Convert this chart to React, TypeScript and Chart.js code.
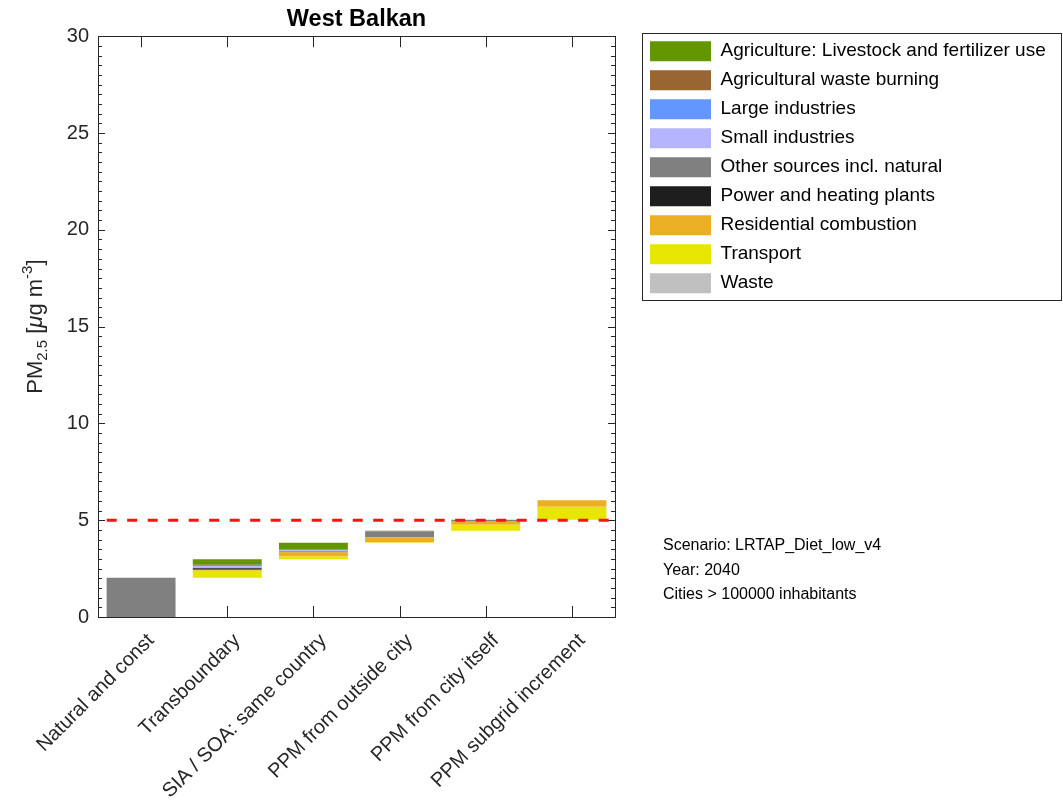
import React, { useEffect, useRef } from 'react';
import { Chart, registerables } from 'chart.js';

Chart.register(...registerables);

// ---------- data ----------
const chartTitle = 'West Balkan';
const categories = [
  'Natural and const',
  'Transboundary',
  'SIA / SOA: same country',
  'PPM from outside city',
  'PPM from city itself',
  'PPM subgrid increment',
];

// source labels in stacking order (bottom -> top)
const sourceLabels = [
  'Waste',
  'Transport',
  'Residential combustion',
  'Power and heating plants',
  'Other sources incl. natural',
  'Small industries',
  'Large industries',
  'Agricultural waste burning',
  'Agriculture: Livestock and fertilizer use',
];

const waste = [0, 0, 0, 0, 0, 0];
const transport = [0, 0.36, 0.15, 0.03, 0.3, 0.67];
const residential = [0, 0.05, 0.22, 0.26, 0.2, 0.34];
const power = [0, 0.08, 0.01, 0, 0, 0];
const otherSources = [2.03, 0.03, 0.04, 0.31, 0.05, 0];
const smallIndustries = [0, 0.06, 0.03, 0, 0, 0];
const largeIndustries = [0, 0.08, 0.04, 0, 0.01, 0];
const agriWasteBurning = [0, 0.01, 0, 0, 0, 0];
const agriculture = [0, 0.28, 0.36, 0.03, 0, 0];

const yMin = 0;
const yMax = 30;
const yMajorStep = 5;
const yMinorStep = 0.5;
const limitValue = 5;

const infoLines = ['Scenario: LRTAP_Diet_low_v4', 'Year: 2040', 'Cities > 100000 inhabitants'];

// ---------- styles ----------
const FONT = '"Liberation Sans", Arial, Helvetica, sans-serif';
const AXIS_COLOR = '#262626';
const sourceColors = [
  '#c0c0c0', // waste
  '#e6e600', // transport
  '#ebaf23', // residential
  '#1e1e1e', // power
  '#808080', // other
  '#b4b4ff', // small industries
  '#6496ff', // large industries
  '#996633', // agri waste burning
  '#649600', // agriculture
];

const series = [
  waste,
  transport,
  residential,
  power,
  otherSources,
  smallIndustries,
  largeIndustries,
  agriWasteBurning,
  agriculture,
];

// waterfall: each category starts where the previous one ended
const totals = categories.map((_, i) => series.reduce((s, arr) => s + arr[i], 0));
const bases = totals.map((_, i) => totals.slice(0, i).reduce((a, b) => a + b, 0));

const barDatasets = series.map((arr, k) => ({
  type: 'bar' as const,
  label: sourceLabels[k],
  xAxisID: 'x',
  yAxisID: 'y',
  grouped: false,
  data: arr.map((v, i) => {
    if (!v) return null;
    const start = bases[i] + series.slice(0, k).reduce((s, a) => s + a[i], 0);
    return [start, start + v];
  }),
  backgroundColor: sourceColors[k],
  borderWidth: 0,
  barPercentage: 0.8,
  categoryPercentage: 1,
}));

const limitDataset = {
  type: 'line' as const,
  label: 'limit',
  xAxisID: 'xLine',
  yAxisID: 'y',
  data: [
    { x: 0, y: limitValue },
    { x: 1, y: limitValue },
  ],
  borderColor: '#ff1010',
  borderWidth: 3,
  borderDash: [10, 10.5],
  borderDashOffset: 11.8,
  pointRadius: 0,
  fill: false,
  order: -1,
};

// layout: chart area 98..615 x 35..617, legend box starting at 641
const LEGEND_WIDTH = 410;
const PAD_RIGHT = 1063 - 615 - 26 - LEGEND_WIDTH;

const matlabAxes = {
  id: 'matlabAxes',
  beforeDatasetsDraw(chart: any) {
    const { ctx, chartArea: a, scales } = chart;
    const ys = scales.y;
    const xs = scales.x;
    ctx.save();
    ctx.strokeStyle = AXIS_COLOR;
    ctx.lineWidth = 1;
    ctx.beginPath();
    const n = Math.round((yMax - yMin) / yMinorStep);
    for (let j = 0; j <= n; j++) {
      const v = yMin + j * yMinorStep;
      const py = Math.round(ys.getPixelForValue(v)) + 0.5;
      const major = Math.abs(v / yMajorStep - Math.round(v / yMajorStep)) < 1e-6;
      const len = major ? 7 : 4;
      ctx.moveTo(a.left, py);
      ctx.lineTo(a.left + len, py);
      ctx.moveTo(a.right, py);
      ctx.lineTo(a.right - len, py);
    }
    categories.forEach((_, i) => {
      const px = Math.round(xs.getPixelForValue(i)) + 0.5;
      ctx.moveTo(px, a.bottom);
      ctx.lineTo(px, a.bottom - 11);
      ctx.moveTo(px, a.top);
      ctx.lineTo(px, a.top + 11);
    });
    ctx.stroke();
    ctx.strokeRect(Math.round(a.left) + 0.5, Math.round(a.top) + 0.5, Math.round(a.right - a.left), Math.round(a.bottom - a.top));
    ctx.restore();
  },
  afterDraw(chart: any) {
    const { ctx, chartArea: a } = chart;
    ctx.save();
    // y-axis title with sub/superscript
    const parts = [
      { t: 'PM', size: 22, dy: 0, italic: false },
      { t: '2.5', size: 15, dy: 5, italic: false },
      { t: ' [', size: 22, dy: 0, italic: false },
      { t: '\u03bc', size: 22, dy: 0, italic: true },
      { t: 'g m', size: 22, dy: 0, italic: false },
      { t: '-3', size: 15, dy: -10, italic: false },
      { t: ']', size: 22, dy: 0, italic: false },
    ];
    ctx.fillStyle = AXIS_COLOR;
    ctx.textBaseline = 'alphabetic';
    ctx.textAlign = 'left';
    const widths = parts.map((p) => {
      ctx.font = `${p.italic ? 'italic ' : ''}${p.size}px ${FONT}`;
      return ctx.measureText(p.t).width;
    });
    const total = widths.reduce((s, w) => s + w, 0);
    ctx.translate(42, (a.top + a.bottom) / 2);
    ctx.rotate(-Math.PI / 2);
    let x = -total / 2;
    parts.forEach((p, i) => {
      ctx.font = `${p.italic ? 'italic ' : ''}${p.size}px ${FONT}`;
      ctx.fillText(p.t, x, p.dy);
      x += widths[i];
    });
    ctx.restore();

    // legend border + info text
    const lg = chart.legend;
    if (lg && lg.legendHitBoxes && lg.legendHitBoxes.length) {
      const hb = lg.legendHitBoxes;
      const first = hb[0];
      const last = hb[hb.length - 1];
      const left = Math.round(first.left - 8) + 0.5;
      const top = Math.round(first.top - 8) + 0.5;
      const bottom = Math.round(last.top + last.height + 7) + 0.5;
      const right = 1061.5;
      ctx.save();
      ctx.strokeStyle = AXIS_COLOR;
      ctx.lineWidth = 1;
      ctx.strokeRect(left, top, right - left, bottom - top);
      ctx.fillStyle = '#000000';
      ctx.font = `16px ${FONT}`;
      ctx.textAlign = 'left';
      ctx.textBaseline = 'middle';
      infoLines.forEach((line, i) => {
        ctx.fillText(line, first.left + 13, 546 + i * 24.5);
      });
      ctx.restore();
    }
  },
};

export default function App() {
  const ref = useRef<HTMLCanvasElement>(null);
  useEffect(() => {
    const canvas = ref.current;
    if (!canvas) return;
    Chart.defaults.font.family = FONT;
    const chart = new Chart(canvas, {
      type: 'bar',
      data: {
        labels: categories,
        datasets: [...barDatasets, limitDataset] as any,
      },
      options: {
        animation: false,
        responsive: false,
        devicePixelRatio: 1,
        events: [],
        layout: { padding: { top: 1, right: PAD_RIGHT, bottom: 0, left: 0 } },
        scales: {
          x: {
            type: 'category',
            stacked: true,
            offset: true,
            grid: { display: false, drawTicks: false },
            border: { display: false },
            ticks: {
              autoSkip: false,
              minRotation: 45,
              maxRotation: 45,
              font: { size: 20, family: FONT },
              color: AXIS_COLOR,
              padding: 12,
              labelOffset: 10,
            },
            afterFit: (s: any) => {
              s.height = 188;
            },
          },
          xLine: {
            type: 'linear',
            display: false,
            offset: false,
            min: 0,
            max: 1,
          },
          y: {
            type: 'linear',
            position: 'left',
            stacked: false,
            min: yMin,
            max: yMax,
            grid: { display: false, drawTicks: false },
            border: { display: false },
            ticks: {
              stepSize: yMajorStep,
              font: { size: 20, family: FONT },
              color: AXIS_COLOR,
              padding: 9,
            },
            afterFit: (s: any) => {
              s.width = 98;
            },
          },
          y2: {
            type: 'linear',
            position: 'right',
            display: true,
            grid: { display: false, drawTicks: false },
            border: { display: false },
            ticks: { display: false },
            afterFit: (s: any) => {
              s.width = 26;
            },
          },
        },
        plugins: {
          tooltip: { enabled: false },
          title: {
            display: true,
            text: chartTitle,
            fullSize: false,
            color: '#000000',
            font: { size: 23.5, weight: 'bold', family: FONT },
            padding: { top: 4, bottom: 3 },
          },
          legend: {
            display: true,
            position: 'right',
            align: 'start',
            reverse: true,
            maxWidth: LEGEND_WIDTH,
            title: { display: true, text: ' ', font: { size: 1 }, padding: { top: 30, bottom: 0 } },
            labels: {
              boxWidth: 61,
              boxHeight: 20,
              padding: 9,
              color: '#000000',
              font: { size: 19, family: FONT },
              filter: (item: any) => item.text !== 'limit',
            },
          },
        },
      } as any,
      plugins: [matlabAxes],
    });
    return () => chart.destroy();
  }, []);
  return (
    <div style={{ position: 'fixed', left: 0, top: 0, width: 1063, height: 805, background: '#ffffff' }}>
      <canvas ref={ref} width={1063} height={805} style={{ display: 'block', width: 1063, height: 805 }} />
    </div>
  );
}
